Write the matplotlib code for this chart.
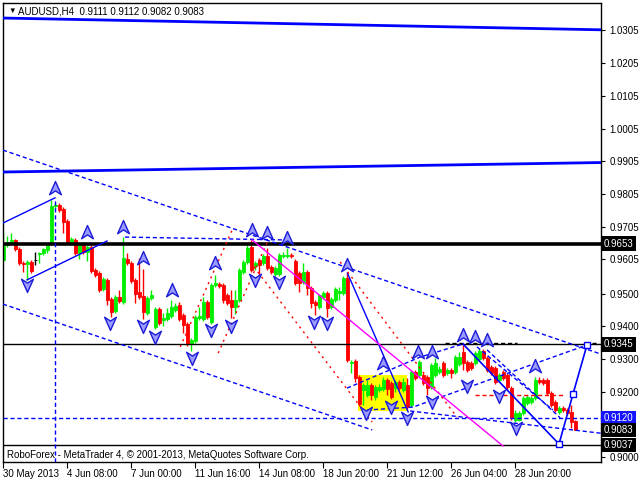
import numpy as np
import matplotlib
matplotlib.use('Agg')
import matplotlib.pyplot as plt
import matplotlib.transforms as mtransforms
from matplotlib.path import Path

plt.rcParams['font.family'] = ['Liberation Sans', 'DejaVu Sans']

# H4 candles, prices in pips (x 0.0001)
opens = [9603, 9649, 9658, 9664, 9636, 9594, 9591, 9597, 9602, 9621, 9624, 9633, 9655, 9768, 9771, 9759,
         9722, 9658, 9664, 9624, 9649, 9627, 9643, 9572, 9563, 9514, 9542, 9483, 9447, 9490, 9474, 9606,
         9594, 9542, 9505, 9493, 9441, 9487, 9398, 9453, 9419, 9422, 9431, 9450, 9465, 9435, 9407, 9346,
         9355, 9425, 9422, 9474, 9413, 9526, 9529, 9526, 9496, 9480, 9459, 9480, 9566, 9597, 9643, 9584,
         9603, 9594, 9615, 9581, 9560, 9560, 9615, 9615, 9618, 9600, 9563, 9536, 9566, 9517, 9474, 9459,
         9490, 9502, 9459, 9480, 9502, 9502, 9548, 9288, 9294, 9245, 9205, 9190, 9220, 9184, 9205, 9208,
         9236, 9226, 9211, 9230, 9205, 9220, 9159, 9260, 9251, 9251, 9245, 9214, 9251, 9260, 9288, 9257,
         9266, 9260, 9285, 9321, 9291, 9288, 9288, 9300, 9324, 9303, 9275, 9272, 9236, 9260, 9251, 9211,
         9113, 9113, 9135, 9165, 9168, 9181, 9236, 9236, 9236, 9196, 9168, 9138, 9150, 9144, 9138, 9111]
highs = [9689, 9676, 9685, 9667, 9643, 9600, 9603, 9603, 9627, 9627, 9640, 9655, 9786, 9777, 9777, 9765,
         9728, 9673, 9670, 9655, 9655, 9649, 9649, 9578, 9569, 9551, 9548, 9490, 9496, 9511, 9673, 9624,
         9600, 9548, 9609, 9575, 9493, 9511, 9459, 9459, 9441, 9456, 9480, 9471, 9474, 9441, 9413, 9364,
         9435, 9459, 9490, 9480, 9532, 9557, 9536, 9532, 9502, 9511, 9511, 9578, 9603, 9655, 9664, 9600,
         9609, 9621, 9640, 9588, 9584, 9624, 9627, 9640, 9624, 9606, 9569, 9594, 9572, 9523, 9480, 9499,
         9508, 9508, 9490, 9520, 9520, 9554, 9563, 9297, 9300, 9251, 9226, 9236, 9226, 9220, 9223, 9245,
         9242, 9233, 9236, 9236, 9242, 9242, 9266, 9266, 9297, 9257, 9251, 9288, 9303, 9278, 9294, 9272,
         9272, 9312, 9321, 9343, 9297, 9294, 9324, 9330, 9330, 9309, 9282, 9278, 9257, 9266, 9257, 9217,
         9144, 9141, 9187, 9190, 9187, 9245, 9245, 9242, 9242, 9202, 9174, 9156, 9156, 9150, 9159, 9112]
lows = [9597, 9643, 9652, 9630, 9588, 9566, 9542, 9563, 9588, 9594, 9618, 9624, 9649, 9759, 9750, 9685,
        9652, 9652, 9618, 9606, 9621, 9600, 9563, 9551, 9505, 9508, 9465, 9428, 9441, 9471, 9468, 9588,
        9532, 9471, 9483, 9422, 9435, 9480, 9392, 9404, 9401, 9416, 9425, 9444, 9416, 9379, 9340, 9324,
        9349, 9419, 9416, 9422, 9407, 9520, 9517, 9471, 9465, 9425, 9438, 9474, 9560, 9591, 9566, 9572,
        9557, 9588, 9572, 9560, 9554, 9554, 9609, 9609, 9609, 9526, 9505, 9529, 9496, 9456, 9435, 9453,
        9483, 9428, 9453, 9474, 9480, 9496, 9291, 9257, 9230, 9156, 9159, 9184, 9175, 9174, 9199, 9202,
        9190, 9178, 9199, 9205, 9199, 9147, 9153, 9236, 9245, 9220, 9190, 9208, 9245, 9254, 9245, 9251,
        9242, 9254, 9278, 9266, 9260, 9266, 9282, 9294, 9297, 9260, 9251, 9223, 9230, 9236, 9205, 9113,
        9107, 9110, 9129, 9159, 9162, 9174, 9223, 9220, 9190, 9153, 9138, 9132, 9138, 9129, 9089, 9082]
closes = [9649, 9658, 9664, 9636, 9594, 9591, 9597, 9569, 9602, 9624, 9636, 9649, 9768, 9771, 9756, 9719,
          9658, 9667, 9624, 9649, 9627, 9643, 9569, 9557, 9511, 9545, 9480, 9444, 9490, 9477, 9609, 9594,
          9539, 9499, 9490, 9444, 9487, 9496, 9453, 9410, 9425, 9441, 9459, 9462, 9422, 9404, 9346, 9358,
          9428, 9431, 9474, 9428, 9526, 9532, 9523, 9480, 9471, 9459, 9480, 9572, 9597, 9640, 9572, 9594,
          9588, 9615, 9578, 9566, 9578, 9618, 9618, 9618, 9615, 9532, 9532, 9566, 9517, 9471, 9465, 9496,
          9502, 9456, 9483, 9514, 9508, 9548, 9297, 9291, 9242, 9162, 9220, 9220, 9190, 9214, 9214, 9236,
          9208, 9184, 9230, 9211, 9230, 9153, 9260, 9242, 9291, 9226, 9211, 9282, 9288, 9269, 9251, 9266,
          9257, 9306, 9306, 9288, 9266, 9272, 9318, 9324, 9303, 9266, 9257, 9230, 9251, 9242, 9214, 9119,
          9135, 9135, 9181, 9184, 9181, 9236, 9230, 9226, 9196, 9159, 9144, 9150, 9144, 9135, 9107, 9083]

# axis labels
date_ticks = [0, 16, 32, 48, 64, 80, 96, 112, 128]
date_labels = ['30 May 2013', '4 Jun 08:00', '7 Jun 00:00', '11 Jun 16:00', '14 Jun 08:00',
               '18 Jun 20:00', '21 Jun 12:00', '26 Jun 04:00', '28 Jun 20:00']
price_ticks = [1.0305, 1.0205, 1.0105, 1.0005, 0.9905, 0.9805, 0.9705, 0.9605,
               0.9500, 0.9400, 0.9300, 0.9200, 0.9000]
level_labels = [(0.9653, 'black'), (0.9345, 'black'), (0.9120, '#1414ff'),
                (0.9083, 'black'), (0.9037, 'black')]

# analysis objects: (bars, prices)
thick_blue = [([-0.1, 149.4], [1.0343, 1.0307]), ([-0.1, 149.4], [0.9872, 0.9901])]
thin_blue = [([-0.1, 12.9], [0.9716, 0.9793]), ([5.9, 25.9], [0.9542, 0.9661]),
             ([86, 101.2], [0.9563, 0.9138])]
dash_blue = [([-0.1, 149.4], [0.9939, 0.9315]), ([-0.1, 92.2], [0.9468, 0.9083]),
             ([30.4, 71.7], [0.9673, 0.9664]), ([85.9, 104.2, 114.9], [0.9211, 0.9306, 0.9346]),
             ([90.9, 102.4, 145.9], [0.9144, 0.9153, 0.9343]), ([118.4, 137.4], [0.9337, 0.9144]),
             ([120.9, 139.2], [0.9328, 0.9120]), ([101.7, 149.4], [0.9141, 0.9073])]
dot_red = [([44.2, 57.2], [0.9337, 0.9695]), ([53.7, 66.2], [0.9318, 0.9664]),
           ([61.7, 92.2], [0.9597, 0.9107]), ([84.2, 113.4], [0.9597, 0.9122])]
red_level = ([117.9, 140.4], [0.9190, 0.9190])
magenta_line = ([62.2, 124.9], [0.9664, 0.9034])
black_dash = [([110.5, 128.4], [0.9348, 0.9348]), ([145.5, 148.8], [0.9349, 0.9349])]
forecast_x = [114.9, 138.9, 142.4, 145.9]
forecast_y = [0.9346, 0.9040, 0.9193, 0.9343]
box_x = [88.7, 100.9]
box_y = [0.9141, 0.9251]
vline_bar = 13
vline_top = 0.9786

up_x = [12.9, 20.9, 29.9, 34.9, 42.2, 52.9, 62.2, 65.9, 70.9, 85.9, 94.9, 103.7, 107.2,
        114.9, 117.9, 120.9, 132.9]
up_y = [0.9823, 0.9689, 0.9704, 0.9609, 0.9511, 0.9594, 0.9695, 0.9685, 0.9670, 0.9588,
        0.9288, 0.9321, 0.9321, 0.9373, 0.9367, 0.9358, 0.9278]
dn_x = [5.9, 26.7, 34.9, 37.9, 47.2, 51.9, 56.9, 62.9, 68.9, 77.7, 80.9, 90.7, 96.9, 100.9,
        107.2, 115.9, 123.9, 128.2]
dn_y = [0.9526, 0.9410, 0.9401, 0.9367, 0.9303, 0.9389, 0.9401, 0.9542, 0.9536, 0.9413,
        0.9410, 0.9135, 0.9153, 0.9119, 0.9168, 0.9217, 0.9187, 0.9089]

fig = plt.figure(figsize=(6.4, 4.8), dpi=100)
ax = fig.add_axes([3 / 640, 1 - 462 / 480, 598 / 640, 459 / 480])
ax.set_xlim(-0.1, 149.4)
ax.set_ylim(0.8985, 1.0389)

# candles
o = np.array(opens) / 10000
h = np.array(highs) / 10000
l = np.array(lows) / 10000
c = np.array(closes) / 10000
x = np.arange(len(o))
cols = np.where(c > o, '#00ee00', np.where(c < o, '#ff0000', 'black'))
ax.vlines(x, l, h, colors=cols, lw=1, zorder=2)
ax.bar(x, c - o, bottom=o, width=0.6, color=cols, edgecolor=cols, lw=0.6, zorder=2)

# yellow rectangle
ax.fill_between(box_x, box_y[0], box_y[1], color='#ffff00', lw=0, zorder=1)

# horizontal levels
ax.axhline(0.9653, color='black', lw=2.6, zorder=3)
ax.axhline(0.9345, color='black', lw=1, zorder=3)
ax.axhline(0.9037, color='black', lw=1, zorder=3)
ax.axhline(0.9120, color='#0000ff', lw=1, ls=(0, (3, 2)), zorder=3)
ax.vlines(vline_bar, 0.8985, vline_top, colors='#0000ff', lw=1, linestyles=[(0, (3, 2))], zorder=3)

for xs, ys in thick_blue:
    ax.plot(xs, ys, color='#0000ff', lw=2, zorder=3)
for xs, ys in thin_blue:
    ax.plot(xs, ys, color='#0000ff', lw=1, zorder=3)
for xs, ys in dash_blue:
    ax.plot(xs, ys, color='#0000ff', lw=1, ls=(0, (3, 2)), zorder=3)
for xs, ys in dot_red:
    ax.plot(xs, ys, color='#ff0000', lw=1, ls=(0, (1.5, 3)), zorder=3)
for xs, ys in black_dash:
    ax.plot(xs, ys, color='black', lw=1, ls=(0, (3, 2)), zorder=3)
ax.plot(red_level[0], red_level[1], color='#ff0000', lw=1, ls=(0, (3, 2)), zorder=3)
ax.plot(magenta_line[0], magenta_line[1], color='#ff00ff', lw=1, zorder=3)
ax.plot(forecast_x, forecast_y, color='#0000ff', lw=1.2, zorder=4)
ax.plot(forecast_x[1:], forecast_y[1:], 's', ms=5, mfc='white', mec='#0000ff', mew=1, zorder=5)

# arrow marks
up_arrow = Path([(0, 1), (0.85, -0.9), (0, -0.35), (-0.85, -0.9), (0, 1)],
                [Path.MOVETO, Path.LINETO, Path.LINETO, Path.LINETO, Path.CLOSEPOLY])
dn_arrow = Path([(0, -1), (0.85, 0.9), (0, 0.35), (-0.85, 0.9), (0, -1)],
                [Path.MOVETO, Path.LINETO, Path.LINETO, Path.LINETO, Path.CLOSEPOLY])
ax.plot(up_x, up_y, ls='none', marker=up_arrow, ms=10, mfc='#9a9aff', mec='#1c1cd8', mew=1, zorder=5)
ax.plot(dn_x, dn_y, ls='none', marker=dn_arrow, ms=10, mfc='#9a9aff', mec='#1c1cd8', mew=1, zorder=5)

# axes style
for s in ax.spines.values():
    s.set_color('black')
    s.set_linewidth(1)
ax.yaxis.tick_right()
ax.set_yticks(price_ticks)
ax.set_yticklabels(['%.4f' % p for p in price_ticks])
ax.tick_params(axis='y', direction='out', length=3, pad=3, labelsize=7, colors='black')
ax.set_xticks(date_ticks)
ax.set_xticklabels(date_labels)
ax.tick_params(axis='x', direction='out', length=4, pad=1, labelsize=7, colors='black')
for lab in ax.get_xticklabels():
    lab.set_ha('left')

trans = mtransforms.blended_transform_factory(ax.transAxes, ax.transData)
for price, bg in level_labels:
    ax.text(1.0045, price, '%.4f' % price, transform=trans, ha='left', va='center', fontsize=7,
            color='white', bbox=dict(fc=bg, ec='none', pad=1.6), zorder=6, clip_on=False)

fig.text(8 / 640, 1 - 11 / 480, '\u25bc', fontsize=5.5, va='center', ha='left')
fig.text(18 / 640, 1 - 11 / 480, 'AUDUSD,H4  0.9111 0.9112 0.9082 0.9083', fontsize=7,
         va='center', ha='left')
fig.text(7 / 640, 1 - 455 / 480, 'RoboForex - MetaTrader 4, \u00a9 2001-2013, MetaQuotes Software Corp.',
         fontsize=7, va='center', ha='left')

fig.savefig('out.png', dpi=100, facecolor='white')
